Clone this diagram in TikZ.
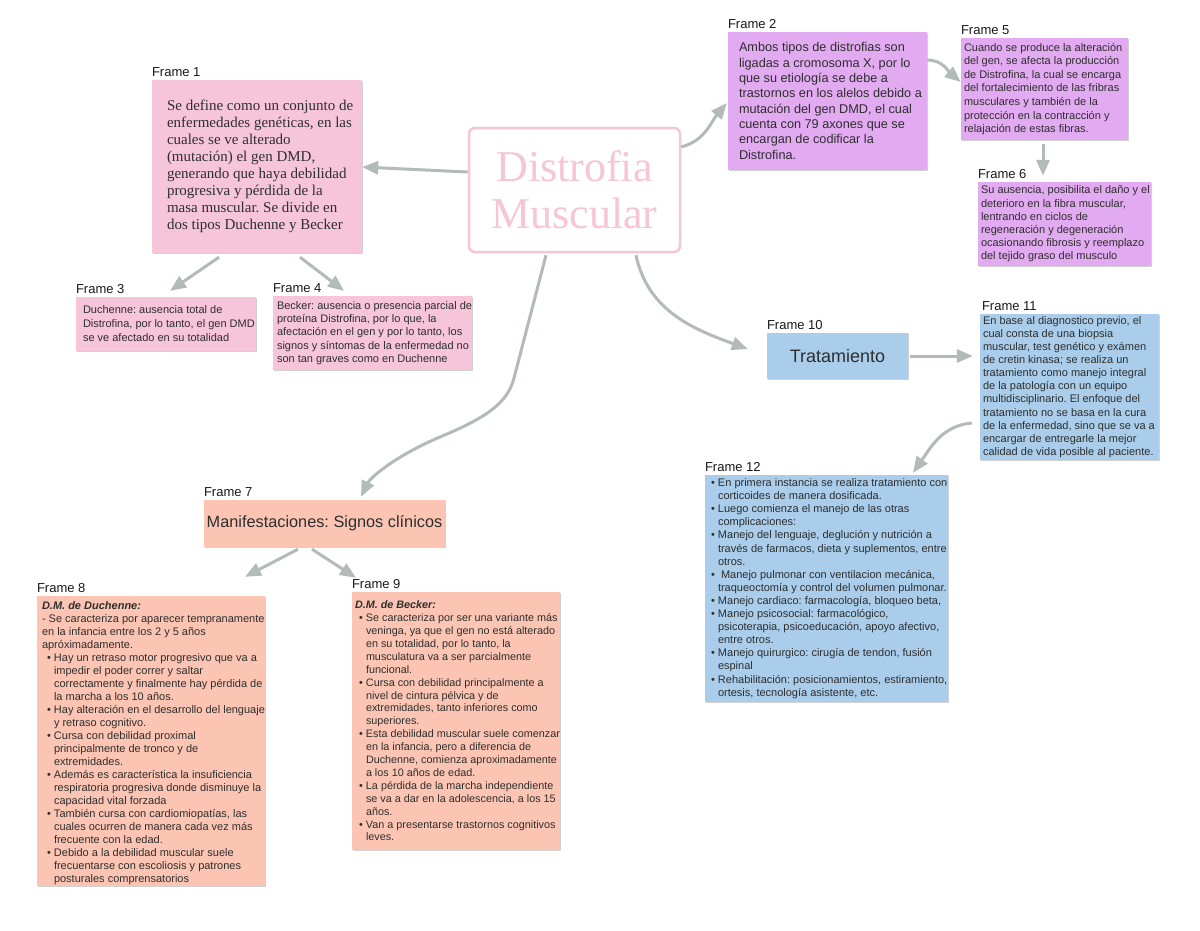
\documentclass[tikz,border=0pt]{standalone}
\usepackage{fontspec}
\setmainfont{Liberation Sans}
\newfontfamily\serfont{Liberation Serif}
\usetikzlibrary{arrows.meta,calc,shadows}
\frenchspacing
\definecolor{pinkF}{HTML}{F6C5DA}
\definecolor{lavF}{HTML}{E2AAF1}
\definecolor{blueF}{HTML}{A9CDEA}
\definecolor{peachF}{HTML}{FCC5B3}
\definecolor{arrowgray}{HTML}{B2BABA}
\definecolor{centralpink}{HTML}{F6C6D8}
\definecolor{txtc}{HTML}{2E2E2E}
\newcommand{\bu}[1]{\makebox[#1][r]{•\hspace{3pt}}}
\newcommand{\ct}[1]{\makebox[#1]{}}
\tikzset{
  x=1pt,y=1pt,
  frame/.style={rectangle, inner sep=0pt, draw=none,
    drop shadow={shadow xshift=0.8pt, shadow yshift=-0.8pt, opacity=0.18, fill=black}},
  txt/.style={anchor=west, align=left, inner sep=0pt, text=txtc, execute at begin node=\frenchspacing},
  lab/.style={anchor=base west, inner sep=0pt, text=black!90, font=\fontsize{13}{15}\selectfont},
  conn/.style={draw=arrowgray, line width=3pt, -{Triangle[length=16pt,width=13pt]}}
}
\begin{document}
\begin{tikzpicture}
\useasboundingbox[fill=white] (0,0) rectangle (1200,-930);

% central
\node[rectangle, rounded corners=6pt, draw=centralpink, line width=2.5pt, fill=white,
  minimum width=211pt, minimum height=124pt, align=center, text=centralpink,
  font=\serfont\fontsize{44}{47}\selectfont] (c) at (574.5,-190) {Distrofia\\Muscular};

% Frame 1
\node[frame, fill=pinkF, minimum width=210pt, minimum height=173pt] (f1) at (257,-166.5) {};
\node[txt, font=\serfont\fontsize{15}{17}\selectfont] (t1) at ($(f1.west)+(15,0)$)
{Se define como un conjunto de\\enfermedades genéticas, en las\\cuales se ve alterado\\(mutación) el gen DMD,\\generando que haya debilidad\\progresiva y pérdida de la\\masa muscular. Se divide en\\dos tipos Duchenne y Becker};
\node[lab] (l1) at ($(f1.north west)+(0,3)$) {Frame 1};

% Frame 2
\node[frame, fill=lavF, minimum width=199pt, minimum height=138pt] (f2) at (827.5,-101) {};
\node[txt, font=\fontsize{12.7}{15.3}\selectfont] (t2) at ($(f2.west)+(11,0)$)
{Ambos tipos de distrofias son\\ligadas a cromosoma X, por lo\\que su etiología se debe a\\trastornos en los alelos debido a\\mutación del gen DMD, el cual\\cuenta con 79 axones que se\\encargan de codificar la\\Distrofina.};
\node[lab] (l2) at ($(f2.north west)+(0,3)$) {Frame 2};

% Frame 5
\node[frame, fill=lavF, minimum width=167pt, minimum height=102pt] (f5) at (1044.5,-89) {};
\node[txt, font=\fontsize{11}{13.6}\selectfont] (t5) at ($(f5.west)+(3,0)$)
{Cuando se produce la alteración\\del gen, se afecta la producción\\de Distrofina, la cual se encarga\\del fortalecimiento de las fribras\\musculares y también de la\\protección en la contracción y\\relajación de estas fibras.};
\node[lab] (l5) at ($(f5.north west)+(0,3)$) {Frame 5};

% Frame 6
\node[frame, fill=lavF, minimum width=173pt, minimum height=84pt] (f6) at (1064.5,-224) {};
\node[txt, font=\fontsize{11}{13.2}\selectfont] (t6) at ($(f6.west)+(3,0)$)
{Su ausencia, posibilita el daño y el\\deterioro en la fibra muscular,\\lentrando en ciclos de\\regeneración y degeneración\\ocasionando fibrosis y reemplazo\\del tejido graso del musculo};
\node[lab] (l6) at ($(f6.north west)+(0,3)$) {Frame 6};

% Frame 3
\node[frame, fill=pinkF, minimum width=180pt, minimum height=54pt] (f3) at (166,-324) {};
\node[txt, font=\fontsize{11}{14}\selectfont] (t3) at ($(f3.west)+(7,0)$)
{Duchenne: ausencia total de\\Distrofina, por lo tanto, el gen DMD\\se ve afectado en su totalidad};
\node[lab] (l3) at ($(f3.north west)+(0,3)$) {Frame 3};

% Frame 4
\node[frame, fill=pinkF, minimum width=199pt, minimum height=74pt] (f4) at (372.5,-333) {};
\node[txt, font=\fontsize{11}{13.3}\selectfont] (t4) at ($(f4.west)+(4,0)$)
{Becker: ausencia o presencia parcial de\\proteína Distrofina, por lo que, la\\afectación en el gen y por lo tanto, los\\signos y síntomas de la enfermedad no\\son tan graves como en Duchenne};
\node[lab] (l4) at ($(f4.north west)+(0,3)$) {Frame 4};

% Frame 10
\node[frame, fill=blueF, minimum width=141pt, minimum height=46pt, text=txtc,
  font=\fontsize{18}{20}\selectfont] (f10) at (837.5,-356) {Tratamiento};
\node[lab] (l10) at ($(f10.north west)+(0,3)$) {Frame 10};

% Frame 11
\node[frame, fill=blueF, minimum width=179pt, minimum height=146pt] (f11) at (1069.5,-387) {};
\node[txt, font=\fontsize{11}{13.1}\selectfont] (t11) at ($(f11.west)+(3,0)$)
{En base al diagnostico previo, el\\cual consta de una biopsia\\muscular, test genético y exámen\\de cretin kinasa; se realiza un\\tratamiento como manejo integral\\de la patología con un equipo\\multidisciplinario. El enfoque del\\tratamiento no se basa en la cura\\de la enfermedad, sino que se va a\\encargar de entregarle la mejor\\calidad de vida posible al paciente.};
\node[lab] (l11) at ($(f11.north west)+(2,3)$) {Frame 11};

% Frame 12
\node[frame, fill=blueF, minimum width=243pt, minimum height=227pt] (f12) at (826.5,-588.5) {};
\node[txt, font=\fontsize{11}{13.1}\selectfont] (t12) at ($(f12.west)+(6,0)$)
{\bu{7pt}En primera instancia se realiza tratamiento con\\
\ct{7pt}corticoides de manera dosificada.\\
\bu{7pt}Luego comienza el manejo de las otras\\
\ct{7pt}complicaciones:\\
\bu{7pt}Manejo del lenguaje, deglución y nutrición a\\
\ct{7pt}través de farmacos, dieta y suplementos, entre\\
\ct{7pt}otros.\\
\bu{7pt}\hspace{3pt}Manejo pulmonar con ventilacion mecánica,\\
\ct{7pt}traqueoctomía y control del volumen pulmonar.\\
\bu{7pt}Manejo cardiaco: farmacología, bloqueo beta,\\
\bu{7pt}Manejo psicosocial: farmacológico,\\
\ct{7pt}psicoterapia, psicoeducación, apoyo afectivo,\\
\ct{7pt}entre otros.\\
\bu{7pt}Manejo quirurgico: cirugía de tendon, fusión\\
\ct{7pt}espinal\\
\bu{7pt}Rehabilitación: posicionamientos, estiramiento,\\
\ct{7pt}ortesis, tecnología asistente, etc.};
\node[lab] (l12) at ($(f12.north west)+(0,3)$) {Frame 12};

% Frame 7
\node[frame, fill=peachF, minimum width=241pt, minimum height=47pt, text=txtc,
  font=\fontsize{16.3}{19}\selectfont] (f7) at (324.5,-523.5) {Manifestaciones: Signos clínicos};
\node[lab] (l7) at ($(f7.north west)+(0,3)$) {Frame 7};

% Frame 8
\node[frame, fill=peachF, minimum width=228pt, minimum height=290pt] (f8) at (151,-741) {};
\node[txt, font=\fontsize{11}{13}\selectfont] (t8) at ($(f8.west)+(5,-2)$)
{\textbf{\textit{D.M. de Duchenne:}}\\
- Se caracteriza por aparecer tempranamente\\
en la infancia entre los 2 y 5 años\\
apróximadamente.\\
\bu{12pt}Hay un retraso motor progresivo que va a\\
\ct{12pt}impedir el poder correr y saltar\\
\ct{12pt}correctamente y finalmente hay pérdida de\\
\ct{12pt}la marcha a los 10 años.\\
\bu{12pt}Hay alteración en el desarrollo del lenguaje\\
\ct{12pt}y retraso cognitivo.\\
\bu{12pt}Cursa con debilidad proximal\\
\ct{12pt}principalmente de tronco y de\\
\ct{12pt}extremidades.\\
\bu{12pt}Además es característica la insuficiencia\\
\ct{12pt}respiratoria progresiva donde disminuye la\\
\ct{12pt}capacidad vital forzada\\
\bu{12pt}También cursa con cardiomiopatías, las\\
\ct{12pt}cuales ocurren de manera cada vez más\\
\ct{12pt}frecuente con la edad.\\
\bu{12pt}Debido a la debilidad muscular suele\\
\ct{12pt}frecuentarse con escoliosis y patrones\\
\ct{12pt}posturales comprensatorios};
\node[lab] (l8) at ($(f8.north west)+(0,3)$) {Frame 8};

% Frame 9
\node[frame, fill=peachF, minimum width=208pt, minimum height=258pt] (f9) at (456,-721) {};
\node[txt, font=\fontsize{10.8}{12.9}\selectfont] (t9) at ($(f9.west)+(3,0)$)
{\textbf{\textit{D.M. de Becker:}}\\
\bu{11pt}Se caracteriza por ser una variante más\\
\ct{11pt}veninga, ya que el gen no está alterado\\
\ct{11pt}en su totalidad, por lo tanto, la\\
\ct{11pt}musculatura va a ser parcialmente\\
\ct{11pt}funcional.\\
\bu{11pt}Cursa con debilidad principalmente a\\
\ct{11pt}nivel de cintura pélvica y de\\
\ct{11pt}extremidades, tanto inferiores como\\
\ct{11pt}superiores.\\
\bu{11pt}Esta debilidad muscular suele comenzar\\
\ct{11pt}en la infancia, pero a diferencia de\\
\ct{11pt}Duchenne, comienza aproximadamente\\
\ct{11pt}a los 10 años de edad.\\
\bu{11pt}La pérdida de la marcha independiente\\
\ct{11pt}se va a dar en la adolescencia, a los 15\\
\ct{11pt}años.\\
\bu{11pt}Van a presentarse trastornos cognitivos\\
\ct{11pt}leves.};
\node[lab] (l9) at ($(f9.north west)+(0,3)$) {Frame 9};

% connectors
\draw[conn] ($(c.west)+(0,18)$) -- ($(f1.east)+(0,-0.5)$);
\draw[conn] ($(c.east)+(0,43)$) to[out=15,in=230] ($(f2.west)+(-1,-2)$);
\draw[conn] ($(f2.east)+(0,41)$) to[out=0,in=140] ($(f5.west)+(0,7)$);
\draw[conn] ($(f5.south)+(-1.5,-4)$) -- ($(f5.south |- f6.north)+(-1.5,6)$);
\draw[conn] ($(f1.south)+(-38,-4)$) -- ($(f3.north)+(4,6)$);
\draw[conn] ($(f1.south)+(43,-4)$) -- ($(f4.north)+(-28.5,5)$);
\draw[conn] ($(c.south)+(-28.5,-2)$) -- (514,-378) .. controls (507,-406) and (480,-420) .. (440,-437) .. controls (395,-456) and (370,-478) .. ($(f7.north)+(36.5,3)$);
\draw[conn] ($(c.south)+(61.5,-2)$) to[out=-78,in=160] ($(f10.west)+(-19,7)$);
\draw[conn] ($(f10.east)+(2,0)$) -- ($(f10.east -| f11.west)+(-7,0)$);
\draw[conn] ($(f11.west)+(-8,-36)$) to[out=185,in=55] ($(f12.north)+(86.5,2)$);
\draw[conn] ($(f7.south)+(-26.5,-2)$) -- ($(f8.north)+(94,19)$);
\draw[conn] ($(f7.south)+(-12.5,-2)$) -- ($(f9.north)+(-100,14)$);
\end{tikzpicture}
\end{document}
